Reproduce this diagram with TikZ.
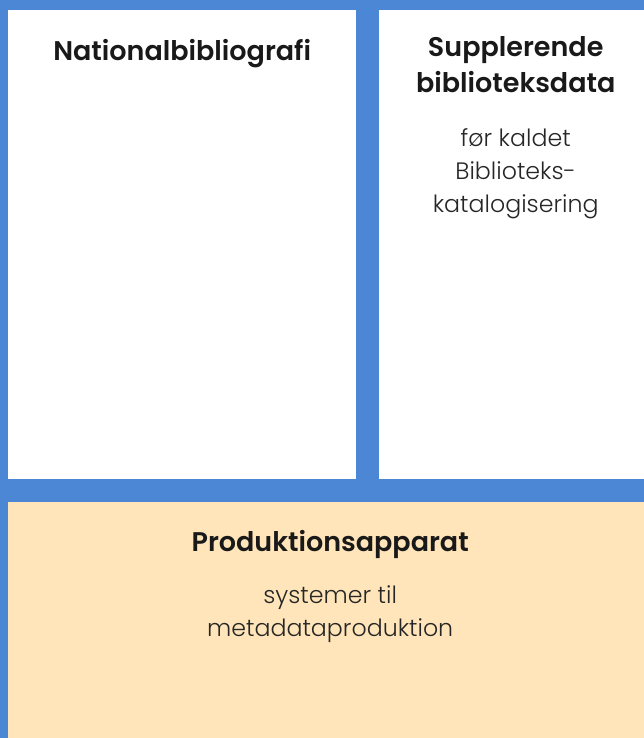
\documentclass[tikz,border=0pt]{standalone}
\usepackage{fontspec}
\setmainfont{Poppins}[BoldFont={Poppins SemiBold}]
\newfontfamily\lightfont{Poppins Light}
\usetikzlibrary{positioning}
\definecolor{panelblue}{RGB}{76,135,214}
\definecolor{prodorange}{RGB}{255,229,185}
\tikzset{
  panel/.style={
    fill=white,
    draw=none,
    inner sep=0pt,
    anchor=north west
  },
  heading/.style={
    font=\fontsize{27}{36}\selectfont\bfseries,
    align=center,
    inner sep=0pt,
    text=black!90
  },
  bodytext/.style={
    font=\lightfont\fontsize{23.7}{33}\selectfont,
    align=center,
    inner sep=0pt,
    text=black!85
  }
}

\begin{document}
\begin{tikzpicture}[x=1pt,y=1pt]
  % Backdrop
  \useasboundingbox (0,0) rectangle (644,738);
  \clip (0,0) rectangle (644,738);
  \fill[panelblue] (0,0) rectangle (644,738);
  % Panels
  \node[panel, minimum width=348pt, minimum height=469pt] (natbib) at (8,728) {};
  \node[panel, minimum width=273pt, minimum height=469pt] (suppl) at (379,728) {};
  \node[panel, fill=prodorange, minimum width=644pt, minimum height=236pt] (prod) at (8,236) {};
  % Headings (base = last line)
  \node[heading, anchor=base] (natbibhead) at ([yshift=-51pt]natbib.north) {Nationalbibliografi};
  \node[heading, anchor=base] (supplhead) at ([yshift=-83pt]suppl.north) {Supplerende\\biblioteksdata};
  \node[heading, anchor=base] (prodhead) at ([yshift=-50pt]prod.north) {Produktionsapparat};
  % Descriptions
  \node[bodytext, anchor=base] (suppltext) at ([yshift=-203pt]suppl.north) {før kaldet\\Biblioteks-\\katalogisering};
  \node[bodytext, anchor=base] (prodtext) at ([yshift=-135pt]prod.north) {systemer til\\metadataproduktion};
\end{tikzpicture}
\end{document}
